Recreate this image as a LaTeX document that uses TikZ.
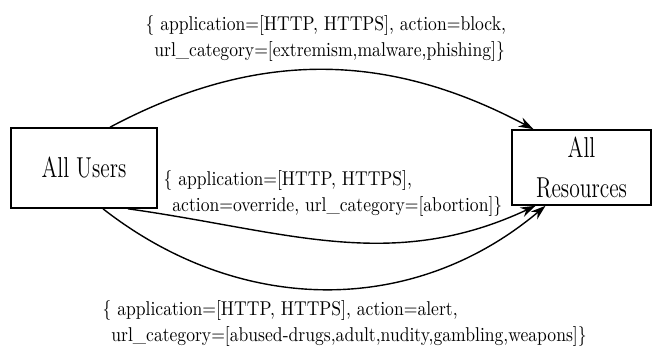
\documentclass[tikz,border=0pt]{standalone}
\usepackage{amssymb, amsmath}
\usepackage{tikz}
\usetikzlibrary{arrows.meta}

\begin{document}
\begin{tikzpicture}[->,>={Stealth[length=7.5pt,width=5pt]},x=0.5pt,y=-0.5pt,
		line width=0.7pt,
		main node/.style={rectangle,draw,line width=0.8pt,align=center,xscale=0.75,
			font=\Large,inner sep=0pt},
		rule node/.style={align=left,anchor=north west,inner sep=0pt,xscale=0.88,
			font=\fontsize{10}{13}\selectfont}]

		\useasboundingbox (0,0) rectangle (652,354);

		\node[main node,minimum width=97pt,minimum height=40pt] (users) at (84,168) {All Users};
		\node[main node,minimum width=92.7pt,minimum height=37.5pt] (res) at (581.5,167.5) {All\\[2pt]Resources};

		% policy labels
		\node[rule node] (block) at (145,15) {\{ application=[HTTP, HTTPS], action=block,\\
			\hspace*{5pt}url\_category=[extremism,malware,phishing]\}};
		\node[rule node] (override) at (163,170) {\{ application=[HTTP, HTTPS],\\
			\hspace*{5pt}action=override, url\_category=[abortion]\}};
		\node[rule node] (alert) at (102,300) {\{ application=[HTTP, HTTPS], action=alert,\\
			\hspace*{5pt}url\_category=[abused-drugs,adult,nudity,gambling,weapons]\}};

		\path ([xshift=13pt]users.north) edge[out=28,in=152] ([xshift=-24pt]res.north);
		\path ([xshift=22pt]users.south) edge[out=-8,in=205] ([xshift=-23pt]res.south);
		\path ([xshift=9.5pt]users.south) edge[out=-38,in=220] ([xshift=-18pt]res.south);
	\end{tikzpicture}
\end{document}
